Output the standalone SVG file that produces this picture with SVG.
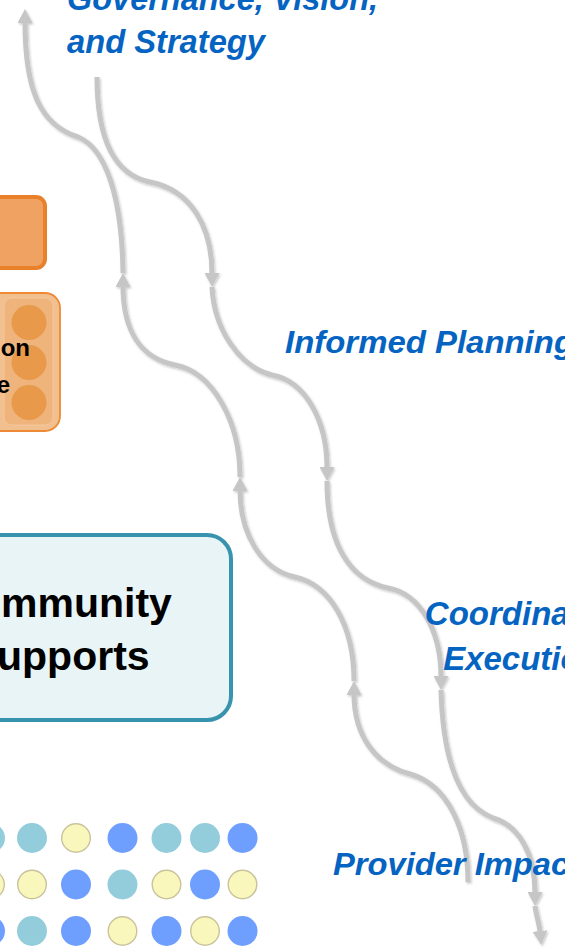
<svg xmlns="http://www.w3.org/2000/svg" width="565" height="949" viewBox="0 0 565 949">
  <style>
    .flow { fill: none; stroke: #c6c6c6; stroke-width: 5; stroke-linecap: butt; marker-end: url(#head); }
    .label { font-family: "Liberation Sans", Arial, sans-serif; font-weight: bold; font-style: italic; fill: #0563c1; }
    .boxtext { font-family: "Liberation Sans", Arial, sans-serif; font-weight: bold; fill: #000; }
    .teal { fill: #93cddc; }
    .blue { fill: #6e9fff; }
    .yellow { fill: #faf7bd; stroke: #c9c39b; stroke-width: 1.4; }
    .pip { fill: #e8994a; }
  </style>
  <defs>
    <marker id="head" markerUnits="userSpaceOnUse" markerWidth="14" markerHeight="15" viewBox="0 0 14 15" refX="1" refY="7.5" orient="auto">
      <path d="M0,0 L14,7.5 L0,15 z" fill="#c6c6c6"/>
    </marker>
    <filter id="soft" x="-20%" y="-5%" width="140%" height="110%">
      <feDropShadow dx="1.2" dy="1.5" stdDeviation="1.2" flood-color="#000" flood-opacity="0.22"/>
    </filter>
  </defs>

  <!-- connectors: downward chain and upward chain -->
  <g id="connectors" filter="url(#soft)">
    <path class="flow" d="M97,77 C97,140 115,175 150,182 C190,190 212,225 212,274"/>
    <path class="flow" d="M212,287 C214,330 240,367 272,375 C305,381 327,420 327,468"/>
    <path class="flow" d="M327,481 C327,545 350,580 388,588 C420,594 441,630 441,677"/>
    <path class="flow" d="M441,690 C443,765 462,806 493,818 C520,826 535,855 535,893"/>
    <path class="flow" d="M535,906 C536,915 539,922 540,932"/>

    <path class="flow" d="M468,882 C468,830 448,785 410,774 C375,765 354,735 354,694"/>
    <path class="flow" d="M354,681 C354,625 330,585 295,577 C262,570 240,535 240,490"/>
    <path class="flow" d="M240,477 C240,420 212,372 175,365 C140,358 123,330 123,286"/>
    <path class="flow" d="M123,273 C122,195 105,148 78,137 C40,125 25,90 25,22"/>
  </g>

  <g id="box-top">
    <rect x="-30" y="197" width="75" height="71" rx="9" fill="#f0a262" stroke="#e9812a" stroke-width="4"/>
  </g>

  <g id="box-committee">
    <rect x="-40" y="293" width="100" height="138" rx="15" fill="#f2c08f" stroke="#ee8a35" stroke-width="1.8"/>
    <rect x="-60" y="298" width="59" height="127" rx="8" fill="#eeb47c"/>
    <rect x="4" y="298" width="49" height="127" rx="8" fill="#eeb47c" stroke="#f3c79c" stroke-width="1"/>
    <circle class="pip" cx="29" cy="322.5" r="17.5"/>
    <circle class="pip" cx="29" cy="362.5" r="17.5"/>
    <circle class="pip" cx="29" cy="402.5" r="17.5"/>
    <text class="boxtext" x="30" y="356" font-size="24" text-anchor="end">on</text>
    <text class="boxtext" x="10" y="393" font-size="24" text-anchor="end">e</text>
  </g>

  <g id="box-community">
    <rect x="-40" y="535" width="271" height="185" rx="24" fill="#e8f4f5" stroke="#3793ae" stroke-width="4"/>
    <text class="boxtext" x="1" y="617" font-size="41">mmunity</text>
    <text class="boxtext" x="-3" y="670" font-size="41">upports</text>
  </g>

  <g id="dots">
    <circle class="teal" cx="-10" cy="838" r="15"/>
    <circle class="teal" cx="32" cy="838" r="15"/>
    <circle class="yellow" cx="76" cy="838" r="14.3"/>
    <circle class="blue" cx="122.5" cy="838" r="15"/>
    <circle class="teal" cx="166.5" cy="838" r="15"/>
    <circle class="teal" cx="205" cy="838" r="15"/>
    <circle class="blue" cx="242.5" cy="838" r="15"/>

    <circle class="yellow" cx="-10" cy="884.5" r="14.3"/>
    <circle class="yellow" cx="32" cy="884.5" r="14.3"/>
    <circle class="blue" cx="76" cy="884.5" r="15"/>
    <circle class="teal" cx="122.5" cy="884.5" r="15"/>
    <circle class="yellow" cx="166.5" cy="884.5" r="14.3"/>
    <circle class="blue" cx="205" cy="884.5" r="15"/>
    <circle class="yellow" cx="242.5" cy="884.5" r="14.3"/>

    <circle class="blue" cx="-10" cy="931" r="15"/>
    <circle class="teal" cx="32" cy="931" r="15"/>
    <circle class="blue" cx="76" cy="931" r="15"/>
    <circle class="yellow" cx="122.5" cy="931" r="14.3"/>
    <circle class="blue" cx="166.5" cy="931" r="15"/>
    <circle class="yellow" cx="205" cy="931" r="14.3"/>
    <circle class="blue" cx="242.5" cy="931" r="15"/>
  </g>

  <g id="label-governance">
    <text class="label" x="67" y="10" font-size="32.5" textLength="311" lengthAdjust="spacingAndGlyphs">Governance, Vision,</text>
    <text class="label" x="67" y="53" font-size="32.5" textLength="198" lengthAdjust="spacingAndGlyphs">and Strategy</text>
  </g>

  <g id="label-planning">
    <text class="label" x="285" y="353" font-size="30.5" textLength="289" lengthAdjust="spacingAndGlyphs">Informed Planning</text>
  </g>

  <g id="label-execution">
    <text class="label" x="522" y="625" font-size="33" text-anchor="middle">Coordinated</text>
    <text class="label" x="522" y="670" font-size="33" text-anchor="middle">Execution</text>
  </g>

  <g id="label-impact">
    <text class="label" x="333" y="875" font-size="32" textLength="247" lengthAdjust="spacingAndGlyphs">Provider Impact</text>
  </g>
</svg>
